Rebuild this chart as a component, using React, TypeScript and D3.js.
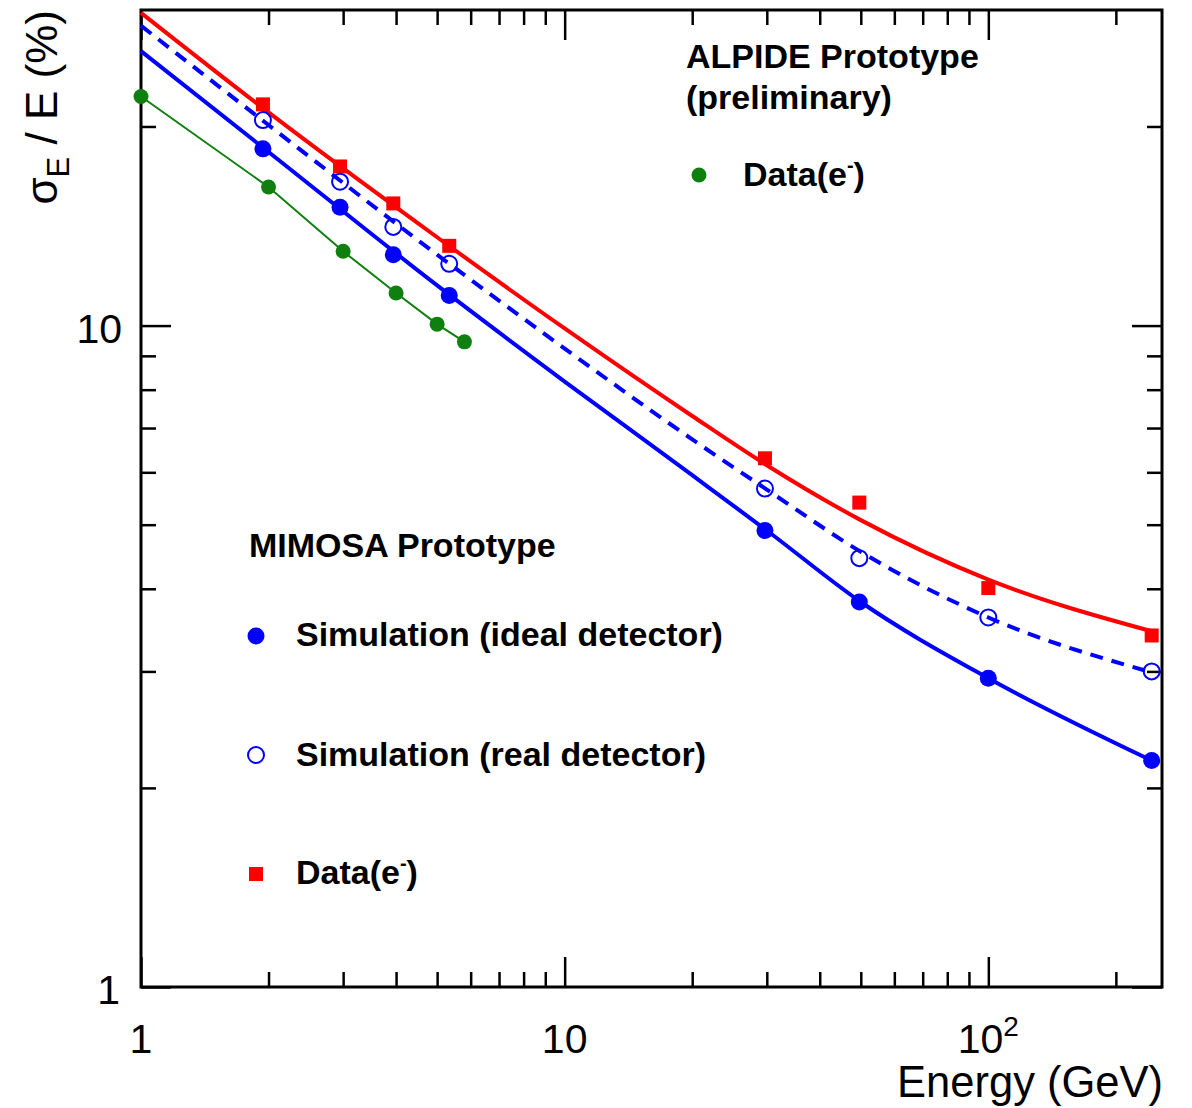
import React, { useEffect, useRef } from 'react';
import * as d3 from 'd3';

const W = 1192;
const H = 1108;

// ALPIDE prototype, data (e-)
const alpideE = [1, 2, 3, 4, 5, 5.8];
const alpideRes = [22.2, 16.2, 12.95, 11.2, 10.05, 9.45];

// MIMOSA prototype
const mimosaE = [1.94, 2.95, 3.94, 5.34, 29.7, 49.6, 100, 243];
const idealRes = [18.5, 15.1, 12.8, 11.1, 4.9, 3.82, 2.93, 2.2];
const realRes = [20.45, 16.5, 14.1, 12.4, 5.67, 4.45, 3.62, 3.0];
const dataRes = [21.6, 17.4, 15.3, 13.2, 6.3, 5.4, 4.01, 3.4];

// fitted curves
const fitE = [1, 2, 5, 10, 20, 30, 50, 100, 243];
const idealFit = [26.0, 18.3, 11.5, 8.23, 5.94, 4.9, 3.82, 2.93, 2.2];
const realFit = [28.4, 20.1, 12.8, 9.23, 6.73, 5.65, 4.55, 3.62, 2.99];
const dataFit = [29.7, 21.0, 13.6, 9.9, 7.3, 6.15, 5.08, 4.13, 3.45];

const xMajor = [1, 10, 100];
const xMinor = [2, 3, 4, 5, 6, 7, 8, 9, 20, 30, 40, 50, 60, 70, 80, 90, 200];
const yMajor = [1, 10];
const yMinor = [2, 3, 4, 5, 6, 7, 8, 9, 20];

const RED = '#ff0000';
const BLUE = '#0000ff';
const GREEN = '#0f800f';
const FONT = '"Liberation Sans", Arial, Helvetica, sans-serif';

const App = () => {
  const ref = useRef<SVGSVGElement>(null);

  useEffect(() => {
    if (!ref.current) return;
    const svg = d3.select(ref.current);
    svg.selectAll('*').remove();

    const x0 = 141, x1 = 1162, y0 = 987, y1 = 10;
    const x = d3.scaleLog().domain([1, 257]).range([x0, x1]);
    const y = d3.scaleLog().domain([1, 30]).range([y0, y1]);

    svg.append('rect').attr('width', W).attr('height', H).attr('fill', '#fff');

    // ticks on all four sides
    const tickGroup = (axis: any, tx: number, ty: number) => {
      const g = svg.append('g').attr('transform', `translate(${tx},${ty})`).call(axis);
      g.select('.domain').remove();
      g.selectAll('line').attr('stroke', '#000').attr('stroke-width', 2.5);
      g.selectAll('text').remove();
    };
    tickGroup(d3.axisBottom(x).tickValues(xMajor).tickSize(-30), 0, y0);
    tickGroup(d3.axisBottom(x).tickValues(xMinor).tickSize(-15), 0, y0);
    tickGroup(d3.axisTop(x).tickValues(xMajor).tickSize(-30), 0, y1);
    tickGroup(d3.axisTop(x).tickValues(xMinor).tickSize(-15), 0, y1);
    tickGroup(d3.axisLeft(y).tickValues(yMajor).tickSize(-30), x0, 0);
    tickGroup(d3.axisLeft(y).tickValues(yMinor).tickSize(-15), x0, 0);
    tickGroup(d3.axisRight(y).tickValues(yMajor).tickSize(-30), x1, 0);
    tickGroup(d3.axisRight(y).tickValues(yMinor).tickSize(-15), x1, 0);

    svg
      .append('rect')
      .attr('x', x0)
      .attr('y', y1)
      .attr('width', x1 - x0)
      .attr('height', y0 - y1)
      .attr('fill', 'none')
      .attr('stroke', '#000')
      .attr('stroke-width', 3);

    // tick labels
    const lab = svg.append('g').attr('font-family', FONT).attr('font-size', 41).attr('fill', '#000');
    lab.append('text').attr('x', x(1)).attr('y', 1053).attr('text-anchor', 'middle').text('1');
    lab.append('text').attr('x', x(10)).attr('y', 1053).attr('text-anchor', 'middle').text('10');
    const t100 = lab.append('text').attr('x', x(100)).attr('y', 1053).attr('text-anchor', 'middle');
    t100.append('tspan').text('10');
    t100.append('tspan').attr('font-size', 28).attr('dy', -17).text('2');
    lab.append('text').attr('x', 120).attr('y', y(1) + 17).attr('text-anchor', 'end').text('1');
    lab.append('text').attr('x', 122).attr('y', y(10) + 17).attr('text-anchor', 'end').text('10');

    // axis titles
    svg
      .append('text')
      .attr('x', 1163)
      .attr('y', 1097)
      .attr('text-anchor', 'end')
      .attr('font-family', FONT)
      .attr('font-size', 43.5)
      .text('Energy (GeV)');

    const yt = svg
      .append('text')
      .attr('transform', 'translate(57,10) rotate(-90)')
      .attr('text-anchor', 'end')
      .attr('font-family', FONT)
      .attr('font-size', 44);
    yt.append('tspan').text('σ');
    yt.append('tspan').attr('font-size', 31).attr('dy', 12).text('E');
    yt.append('tspan').attr('dy', -12).text(' / E (%)');

    // fitted curves
    const line = d3
      .line<[number, number]>()
      .x((d) => x(d[0]))
      .y((d) => y(d[1]))
      .curve(d3.curveMonotoneX);

    const curve = (vals: number[], color: string, dash?: string) => {
      svg
        .append('path')
        .datum(fitE.map((e, i) => [e, vals[i]] as [number, number]))
        .attr('fill', 'none')
        .attr('stroke', color)
        .attr('stroke-width', 4)
        .attr('stroke-dasharray', dash || null)
        .attr('d', line);
    };
    curve(dataFit, RED);
    curve(realFit, BLUE, '13,9');
    curve(idealFit, BLUE);

    // ALPIDE points joined by a thin line
    const alp = alpideE.map((e, i) => [e, alpideRes[i]] as [number, number]);
    svg
      .append('path')
      .datum(alp)
      .attr('fill', 'none')
      .attr('stroke', GREEN)
      .attr('stroke-width', 2)
      .attr('d', d3.line<[number, number]>().x((d) => x(d[0])).y((d) => y(d[1])));
    svg
      .append('g')
      .selectAll('circle')
      .data(alp)
      .join('circle')
      .attr('cx', (d) => x(d[0]))
      .attr('cy', (d) => y(d[1]))
      .attr('r', 7.5)
      .attr('fill', GREEN);

    // MIMOSA markers
    svg
      .append('g')
      .selectAll('rect')
      .data(mimosaE)
      .join('rect')
      .attr('x', (e) => x(e) - 7)
      .attr('y', (e, i) => y(dataRes[i]) - 7)
      .attr('width', 14)
      .attr('height', 14)
      .attr('fill', RED);
    svg
      .append('g')
      .selectAll('circle')
      .data(mimosaE)
      .join('circle')
      .attr('cx', (e) => x(e))
      .attr('cy', (e, i) => y(realRes[i]))
      .attr('r', 8)
      .attr('fill', 'none')
      .attr('stroke', BLUE)
      .attr('stroke-width', 2);
    svg
      .append('g')
      .selectAll('circle')
      .data(mimosaE)
      .join('circle')
      .attr('cx', (e) => x(e))
      .attr('cy', (e, i) => y(idealRes[i]))
      .attr('r', 8.5)
      .attr('fill', BLUE);

    // legends
    const leg = svg.append('g').attr('font-family', FONT).attr('font-weight', 'bold').attr('font-size', 34).attr('fill', '#000');
    const dataLabel = (lx: number, ly: number) => {
      const t = leg.append('text').attr('x', lx).attr('y', ly);
      t.append('tspan').text('Data(e');
      t.append('tspan').attr('font-size', 20).attr('dy', -14).text('-');
      t.append('tspan').attr('dy', 14).text(')');
    };

    leg.append('text').attr('x', 686).attr('y', 68).text('ALPIDE Prototype');
    leg.append('text').attr('x', 686).attr('y', 109).text('(preliminary)');
    leg.append('circle').attr('cx', 699).attr('cy', 175).attr('r', 7.5).attr('fill', GREEN);
    dataLabel(743, 186);

    leg.append('text').attr('x', 249).attr('y', 557).text('MIMOSA Prototype');
    leg.append('circle').attr('cx', 256).attr('cy', 636).attr('r', 8.5).attr('fill', BLUE);
    leg.append('text').attr('x', 296).attr('y', 646).text('Simulation (ideal detector)');
    leg
      .append('circle')
      .attr('cx', 256)
      .attr('cy', 755)
      .attr('r', 8)
      .attr('fill', 'none')
      .attr('stroke', BLUE)
      .attr('stroke-width', 2);
    leg.append('text').attr('x', 296).attr('y', 766).text('Simulation (real detector)');
    leg.append('rect').attr('x', 249).attr('y', 867).attr('width', 14).attr('height', 14).attr('fill', RED);
    dataLabel(296, 884);
  }, []);

  return (
    <svg
      ref={ref}
      width={W}
      height={H}
      style={{ position: 'absolute', left: 0, top: 0, display: 'block' }}
    />
  );
};

export default App;
